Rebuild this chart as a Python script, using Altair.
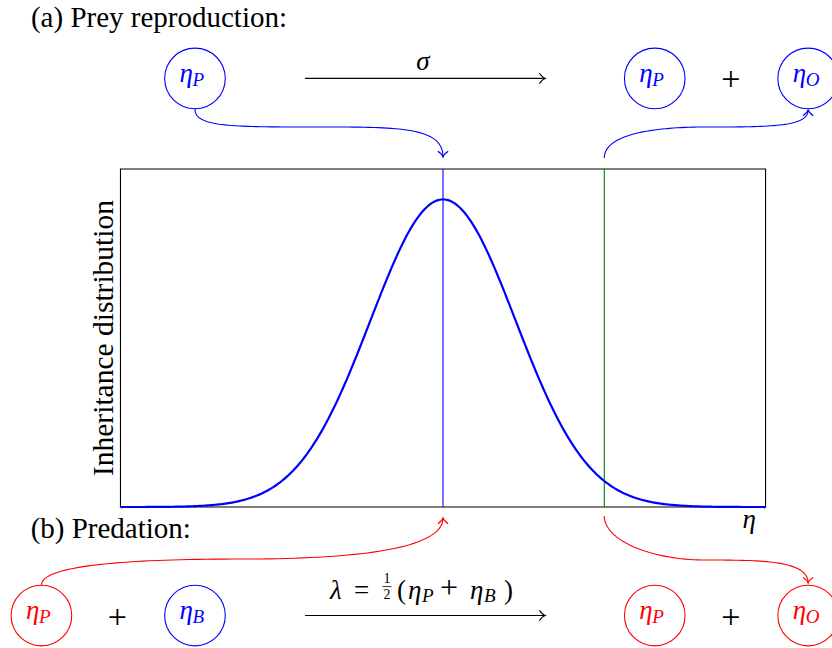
import altair as alt
import numpy as np
import pandas as pd

# ---------------- canvas / units ----------------
W, H = 832, 648
X_DOM = [-2.747, 2.412]      # eta units across the whole canvas
Y_DOM = [-0.417, 1.5]        # density units across the whole canvas
PX_X = (X_DOM[1] - X_DOM[0]) / W
PX_Y = (Y_DOM[1] - Y_DOM[0]) / H

BLUE, RED, GREEN, BLACK = "#0000ff", "#ff0000", "#008000", "#000000"
FONT = "Liberation Serif"

# ---------------- data ----------------
BOX_ETA = [-2.0, 2.0]
BOX_DENS = [0.0, 1.0]
G_MEAN, G_SD, G_PEAK = 0.0, 0.45, 0.91
ETA_PARENT, ETA_CHILD = 0.0, 1.0

ROW_TOP, ROW_BOT = 1.268, -0.321
node_x = [-1.538, 1.313, 2.264, -2.490, -1.538, 1.313, 2.264]
node_row = [ROW_TOP, ROW_TOP, ROW_TOP, ROW_BOT, ROW_BOT, ROW_BOT, ROW_BOT]
node_sub = ["P", "P", "O", "P", "B", "P", "O"]
node_col = [BLUE, BLUE, BLUE, RED, BLUE, RED, RED]

plus_x = [1.784, -2.020, 1.784]
plus_row = [ROW_TOP, ROW_BOT, ROW_BOT]

ARROW_X = [-0.856, 0.633]
arrow_row = [ROW_TOP, ROW_BOT]
LABEL_X = -0.124

# connector control points (two cubic pieces each)
conn_names = ["tl", "tr", "bl", "br"]
conn_cols = [BLUE, BLUE, RED, RED]
conn_cx = [
    [-1.538, -1.538, -1.321, -0.769, -0.267, 0.0, 0.0],
    [1.0, 1.0, 1.284, 1.631, 2.028, 2.264, 2.264],
    [-2.490, -2.490, -2.003, -1.247, -0.502, 0.0, 0.0],
    [1.0, 1.0, 1.284, 1.631, 1.966, 2.264, 2.264],
]
conn_cy = [
    [1.1775, 1.1243, 1.1243, 1.1243, 1.1243, 1.1243, 1.0355],
    [1.0325, 1.1006, 1.1243, 1.1243, 1.1243, 1.1243, 1.1746],
    [-0.2308, -0.1746, -0.1538, -0.1538, -0.1538, -0.1213, -0.0325],
    [-0.0266, -0.0976, -0.1568, -0.1568, -0.1568, -0.1568, -0.2249],
]
conn_tip_angle = [90, 270, 270, 90]

# ---------------- build tables ----------------
eta = np.linspace(BOX_ETA[0], BOX_ETA[1], 401)
df_curve = pd.DataFrame({"x": eta, "y": G_PEAK * np.exp(-(eta - G_MEAN) ** 2 / (2 * G_SD ** 2))})

def bez(p0, p1, p2, p3, n=40):
    t = np.linspace(0, 1, n)
    return ((1 - t) ** 3 * p0 + 3 * (1 - t) ** 2 * t * p1 + 3 * (1 - t) * t ** 2 * p2 + t ** 3 * p3)

rows = []
for name, col, cx, cy in zip(conn_names, conn_cols, conn_cx, conn_cy):
    xs_ = np.concatenate([bez(*cx[0:4]), bez(*cx[3:7])[1:]])
    ys_ = np.concatenate([bez(*cy[0:4]), bez(*cy[3:7])[1:]])
    for i, (a, b) in enumerate(zip(xs_, ys_)):
        rows.append({"id": name, "i": i, "x": a, "y": b, "col": col})
df_conn = pd.DataFrame(rows)

tips = []
for col, cx, cy, ang in zip(conn_cols, conn_cx, conn_cy, conn_tip_angle):
    tips.append({"x": cx[-1], "y": cy[-1], "ang": ang, "col": col})
for r in arrow_row:
    tips.append({"x": ARROW_X[1], "y": r, "ang": 0, "col": BLACK})
df_tips = pd.DataFrame(tips)

df_nodes = pd.DataFrame({"x": node_x, "y": node_row, "col": node_col})

xs = alt.Scale(domain=X_DOM, nice=False, zero=False)
ys = alt.Scale(domain=Y_DOM, nice=False, zero=False)

def X(f="x"):
    return alt.X(f"{f}:Q", scale=xs, axis=None)

def Y(f="y"):
    return alt.Y(f"{f}:Q", scale=ys, axis=None)

layers = []

# box
df_box = pd.DataFrame({"x": [BOX_ETA[0]], "x2": [BOX_ETA[1]], "y": [BOX_DENS[0]], "y2": [BOX_DENS[1]]})
layers.append(alt.Chart(df_box).mark_rect(fillOpacity=0, stroke=BLACK, strokeWidth=1.1).encode(
    x=X(), x2="x2:Q", y=Y(), y2="y2:Q"))

# marker lines
df_rules = pd.DataFrame({"x": [ETA_PARENT, ETA_CHILD], "y": [BOX_DENS[0]] * 2, "y2": [BOX_DENS[1]] * 2,
                         "col": [BLUE, GREEN]})
layers.append(alt.Chart(df_rules).mark_rule(strokeWidth=1.1).encode(
    x=X(), y=Y(), y2="y2:Q", color=alt.Color("col:N", scale=None)))

# curve
layers.append(alt.Chart(df_curve).mark_line(color=BLUE, strokeWidth=2.2).encode(x=X(), y=Y()))

# reaction arrows
df_arr = pd.DataFrame({"x": [ARROW_X[0]] * 2, "x2": [ARROW_X[1]] * 2, "y": arrow_row})
layers.append(alt.Chart(df_arr).mark_rule(color=BLACK, strokeWidth=1.1).encode(x=X(), x2="x2:Q", y=Y()))

# connectors
layers.append(alt.Chart(df_conn).mark_line(strokeWidth=1.1).encode(
    x=X(), y=Y(), detail="id:N", order="i:Q", color=alt.Color("col:N", scale=None)))

# arrow tips
TIP = "M -1 -0.9 C -0.6 -0.35 -0.25 -0.08 0 0 C -0.25 0.08 -0.6 0.35 -1 0.9"
layers.append(alt.Chart(df_tips).mark_point(shape=TIP, filled=False, size=130, strokeWidth=1.1, opacity=1).encode(
    x=X(), y=Y(), angle=alt.Angle("ang:Q", scale=None), color=alt.Color("col:N", scale=None)))

# node circles
layers.append(alt.Chart(df_nodes).mark_point(shape="circle", filled=False, size=3672, strokeWidth=1.1, opacity=1).encode(
    x=X(), y=Y(), color=alt.Color("col:N", scale=None)))

# ---------------- text ----------------
def txt(items, italic=False, align="left", angle=0):
    df = pd.DataFrame(items, columns=["x", "y", "t", "sz", "col"])
    kw = dict(font=FONT, align=align, baseline="alphabetic")
    if italic:
        kw["fontStyle"] = "italic"
    if angle:
        kw["angle"] = angle
    return alt.Chart(df).mark_text(**kw).encode(
        x=X(), y=Y(), text="t:N", size=alt.Size("sz:Q", scale=None), color=alt.Color("col:N", scale=None))

it_left, up_left, it_center, up_center = [], [], [], []
for cx, cy, sub, col in zip(node_x, node_row, node_sub, node_col):
    it_left.append((cx - 15.5 * PX_X, cy - 3.2 * PX_Y, "η", 27, col))
    it_left.append((cx - 2.5 * PX_X, cy - 7.5 * PX_Y, sub, 19, col))
for px_, pr in zip(plus_x, plus_row):
    up_center.append((px_, pr - 12 * PX_Y, "+", 34, BLACK))

# titles
up_left.append((-2.555, 1.421, "(a) Prey reproduction:", 29, BLACK))
up_left.append((-2.557, -0.0926, "(b) Predation:", 29, BLACK))

# sigma
it_center.append((LABEL_X, ROW_TOP + 8.5 * PX_Y, "σ", 27, BLACK))

# lambda label pieces (offsets in px from the label start)
lx0 = LABEL_X - 93 * PX_X
ly = ROW_BOT + 16.5 * PX_Y
it_left.append((lx0, ly, "λ", 27, BLACK))
up_left.append((lx0 + 24 * PX_X, ly, "=", 27, BLACK))
up_center.append((lx0 + 57 * PX_X, ly + 16 * PX_Y, "1", 14, BLACK))
up_center.append((lx0 + 57 * PX_X, ly, "2", 14, BLACK))
up_left.append((lx0 + 67 * PX_X, ly, "(", 27, BLACK))
it_left.append((lx0 + 78 * PX_X, ly, "η", 27, BLACK))
it_left.append((lx0 + 92 * PX_X, ly - 3 * PX_Y, "P", 19, BLACK))
up_left.append((lx0 + 110 * PX_X, ly + 1 * PX_Y, "+", 32, BLACK))
it_left.append((lx0 + 140 * PX_X, ly, "η", 27, BLACK))
it_left.append((lx0 + 154 * PX_X, ly - 3 * PX_Y, "B", 19, BLACK))
up_left.append((lx0 + 174 * PX_X, ly, ")", 27, BLACK))

# axis labels
it_center.append((1.898, -0.063, "η", 27, BLACK))

df_frac = pd.DataFrame({"x": [lx0 + 52.5 * PX_X], "x2": [lx0 + 61.5 * PX_X], "y": [ly + 12.5 * PX_Y]})
layers.append(alt.Chart(df_frac).mark_rule(color=BLACK, strokeWidth=0.8).encode(x=X(), x2="x2:Q", y=Y()))

layers.append(txt(it_left, italic=True, align="left"))
layers.append(txt(up_left, italic=False, align="left"))
layers.append(txt(it_center, italic=True, align="center"))
layers.append(txt(up_center, italic=False, align="center"))
layers.append(txt([(-2.047, 0.5, "Inheritance distribution", 29.5, BLACK)], align="center", angle=270))

chart = alt.layer(*layers).properties(
    width=W, height=H, padding=0,
    autosize=alt.AutoSizeParams(type="none"),
).configure_view(stroke=None)

chart.save("out.html", embed_options={"renderer": "svg", "actions": False})
